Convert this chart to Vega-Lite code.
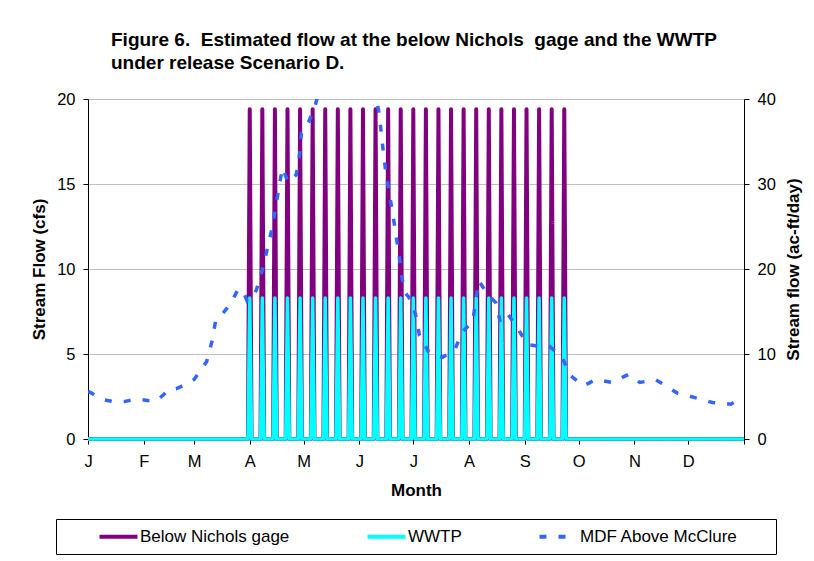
{
  "$schema": "https://vega.github.io/schema/vega-lite/v6.json",
  "width": 656,
  "height": 340,
  "autosize": {"type": "none"},
  "padding": {"left": 88, "top": 99, "right": 70, "bottom": 122},
  "background": "white",
  "title": {
    "text": ["Figure 6.\u00a0 Estimated flow at the below Nichols\u00a0 gage and the WWTP", "under release Scenario D."],
    "anchor": "start",
    "frame": "group",
    "dx": 23,
    "offset": 18,
    "font": "Liberation Sans",
    "fontSize": 19,
    "fontWeight": "bold",
    "lineHeight": 22.6,
    "color": "black"
  },
  "data": {
    "values": [
      {"series": "Below Nichols gage", "day": 0, "flow": 0},
      {"series": "Below Nichols gage", "day": 89, "flow": 0},
      {"series": "Below Nichols gage", "day": 90, "flow": 19.4},
      {"series": "Below Nichols gage", "day": 91, "flow": 0},
      {"series": "Below Nichols gage", "day": 96, "flow": 0},
      {"series": "Below Nichols gage", "day": 97, "flow": 19.4},
      {"series": "Below Nichols gage", "day": 98, "flow": 0},
      {"series": "Below Nichols gage", "day": 103, "flow": 0},
      {"series": "Below Nichols gage", "day": 104, "flow": 19.4},
      {"series": "Below Nichols gage", "day": 105, "flow": 0},
      {"series": "Below Nichols gage", "day": 110, "flow": 0},
      {"series": "Below Nichols gage", "day": 111, "flow": 19.4},
      {"series": "Below Nichols gage", "day": 112, "flow": 0},
      {"series": "Below Nichols gage", "day": 117, "flow": 0},
      {"series": "Below Nichols gage", "day": 118, "flow": 19.4},
      {"series": "Below Nichols gage", "day": 119, "flow": 0},
      {"series": "Below Nichols gage", "day": 124, "flow": 0},
      {"series": "Below Nichols gage", "day": 125, "flow": 19.4},
      {"series": "Below Nichols gage", "day": 126, "flow": 0},
      {"series": "Below Nichols gage", "day": 131, "flow": 0},
      {"series": "Below Nichols gage", "day": 132, "flow": 19.4},
      {"series": "Below Nichols gage", "day": 133, "flow": 0},
      {"series": "Below Nichols gage", "day": 138, "flow": 0},
      {"series": "Below Nichols gage", "day": 139, "flow": 19.4},
      {"series": "Below Nichols gage", "day": 140, "flow": 0},
      {"series": "Below Nichols gage", "day": 145, "flow": 0},
      {"series": "Below Nichols gage", "day": 146, "flow": 19.4},
      {"series": "Below Nichols gage", "day": 147, "flow": 0},
      {"series": "Below Nichols gage", "day": 152, "flow": 0},
      {"series": "Below Nichols gage", "day": 153, "flow": 19.4},
      {"series": "Below Nichols gage", "day": 154, "flow": 0},
      {"series": "Below Nichols gage", "day": 159, "flow": 0},
      {"series": "Below Nichols gage", "day": 160, "flow": 19.4},
      {"series": "Below Nichols gage", "day": 161, "flow": 0},
      {"series": "Below Nichols gage", "day": 166, "flow": 0},
      {"series": "Below Nichols gage", "day": 167, "flow": 19.4},
      {"series": "Below Nichols gage", "day": 168, "flow": 0},
      {"series": "Below Nichols gage", "day": 173, "flow": 0},
      {"series": "Below Nichols gage", "day": 174, "flow": 19.4},
      {"series": "Below Nichols gage", "day": 175, "flow": 0},
      {"series": "Below Nichols gage", "day": 180, "flow": 0},
      {"series": "Below Nichols gage", "day": 181, "flow": 19.4},
      {"series": "Below Nichols gage", "day": 182, "flow": 0},
      {"series": "Below Nichols gage", "day": 187, "flow": 0},
      {"series": "Below Nichols gage", "day": 188, "flow": 19.4},
      {"series": "Below Nichols gage", "day": 189, "flow": 0},
      {"series": "Below Nichols gage", "day": 194, "flow": 0},
      {"series": "Below Nichols gage", "day": 195, "flow": 19.4},
      {"series": "Below Nichols gage", "day": 196, "flow": 0},
      {"series": "Below Nichols gage", "day": 201, "flow": 0},
      {"series": "Below Nichols gage", "day": 202, "flow": 19.4},
      {"series": "Below Nichols gage", "day": 203, "flow": 0},
      {"series": "Below Nichols gage", "day": 208, "flow": 0},
      {"series": "Below Nichols gage", "day": 209, "flow": 19.4},
      {"series": "Below Nichols gage", "day": 210, "flow": 0},
      {"series": "Below Nichols gage", "day": 215, "flow": 0},
      {"series": "Below Nichols gage", "day": 216, "flow": 19.4},
      {"series": "Below Nichols gage", "day": 217, "flow": 0},
      {"series": "Below Nichols gage", "day": 222, "flow": 0},
      {"series": "Below Nichols gage", "day": 223, "flow": 19.4},
      {"series": "Below Nichols gage", "day": 224, "flow": 0},
      {"series": "Below Nichols gage", "day": 229, "flow": 0},
      {"series": "Below Nichols gage", "day": 230, "flow": 19.4},
      {"series": "Below Nichols gage", "day": 231, "flow": 0},
      {"series": "Below Nichols gage", "day": 236, "flow": 0},
      {"series": "Below Nichols gage", "day": 237, "flow": 19.4},
      {"series": "Below Nichols gage", "day": 238, "flow": 0},
      {"series": "Below Nichols gage", "day": 243, "flow": 0},
      {"series": "Below Nichols gage", "day": 244, "flow": 19.4},
      {"series": "Below Nichols gage", "day": 245, "flow": 0},
      {"series": "Below Nichols gage", "day": 250, "flow": 0},
      {"series": "Below Nichols gage", "day": 251, "flow": 19.4},
      {"series": "Below Nichols gage", "day": 252, "flow": 0},
      {"series": "Below Nichols gage", "day": 257, "flow": 0},
      {"series": "Below Nichols gage", "day": 258, "flow": 19.4},
      {"series": "Below Nichols gage", "day": 259, "flow": 0},
      {"series": "Below Nichols gage", "day": 264, "flow": 0},
      {"series": "Below Nichols gage", "day": 265, "flow": 19.4},
      {"series": "Below Nichols gage", "day": 266, "flow": 0},
      {"series": "Below Nichols gage", "day": 365, "flow": 0},

      {"series": "WWTP", "day": 0, "flow": 0},
      {"series": "WWTP", "day": 89, "flow": 0},
      {"series": "WWTP", "day": 90, "flow": 8.3},
      {"series": "WWTP", "day": 91, "flow": 0},
      {"series": "WWTP", "day": 96, "flow": 0},
      {"series": "WWTP", "day": 97, "flow": 8.3},
      {"series": "WWTP", "day": 98, "flow": 0},
      {"series": "WWTP", "day": 103, "flow": 0},
      {"series": "WWTP", "day": 104, "flow": 8.3},
      {"series": "WWTP", "day": 105, "flow": 0},
      {"series": "WWTP", "day": 110, "flow": 0},
      {"series": "WWTP", "day": 111, "flow": 8.3},
      {"series": "WWTP", "day": 112, "flow": 0},
      {"series": "WWTP", "day": 117, "flow": 0},
      {"series": "WWTP", "day": 118, "flow": 8.3},
      {"series": "WWTP", "day": 119, "flow": 0},
      {"series": "WWTP", "day": 124, "flow": 0},
      {"series": "WWTP", "day": 125, "flow": 8.3},
      {"series": "WWTP", "day": 126, "flow": 0},
      {"series": "WWTP", "day": 131, "flow": 0},
      {"series": "WWTP", "day": 132, "flow": 8.3},
      {"series": "WWTP", "day": 133, "flow": 0},
      {"series": "WWTP", "day": 138, "flow": 0},
      {"series": "WWTP", "day": 139, "flow": 8.3},
      {"series": "WWTP", "day": 140, "flow": 0},
      {"series": "WWTP", "day": 145, "flow": 0},
      {"series": "WWTP", "day": 146, "flow": 8.3},
      {"series": "WWTP", "day": 147, "flow": 0},
      {"series": "WWTP", "day": 152, "flow": 0},
      {"series": "WWTP", "day": 153, "flow": 8.3},
      {"series": "WWTP", "day": 154, "flow": 0},
      {"series": "WWTP", "day": 159, "flow": 0},
      {"series": "WWTP", "day": 160, "flow": 8.3},
      {"series": "WWTP", "day": 161, "flow": 0},
      {"series": "WWTP", "day": 166, "flow": 0},
      {"series": "WWTP", "day": 167, "flow": 8.3},
      {"series": "WWTP", "day": 168, "flow": 0},
      {"series": "WWTP", "day": 173, "flow": 0},
      {"series": "WWTP", "day": 174, "flow": 8.3},
      {"series": "WWTP", "day": 175, "flow": 0},
      {"series": "WWTP", "day": 180, "flow": 0},
      {"series": "WWTP", "day": 181, "flow": 8.3},
      {"series": "WWTP", "day": 182, "flow": 0},
      {"series": "WWTP", "day": 187, "flow": 0},
      {"series": "WWTP", "day": 188, "flow": 8.3},
      {"series": "WWTP", "day": 189, "flow": 0},
      {"series": "WWTP", "day": 194, "flow": 0},
      {"series": "WWTP", "day": 195, "flow": 8.3},
      {"series": "WWTP", "day": 196, "flow": 0},
      {"series": "WWTP", "day": 201, "flow": 0},
      {"series": "WWTP", "day": 202, "flow": 8.3},
      {"series": "WWTP", "day": 203, "flow": 0},
      {"series": "WWTP", "day": 208, "flow": 0},
      {"series": "WWTP", "day": 209, "flow": 8.3},
      {"series": "WWTP", "day": 210, "flow": 0},
      {"series": "WWTP", "day": 215, "flow": 0},
      {"series": "WWTP", "day": 216, "flow": 8.3},
      {"series": "WWTP", "day": 217, "flow": 0},
      {"series": "WWTP", "day": 222, "flow": 0},
      {"series": "WWTP", "day": 223, "flow": 8.3},
      {"series": "WWTP", "day": 224, "flow": 0},
      {"series": "WWTP", "day": 229, "flow": 0},
      {"series": "WWTP", "day": 230, "flow": 8.3},
      {"series": "WWTP", "day": 231, "flow": 0},
      {"series": "WWTP", "day": 236, "flow": 0},
      {"series": "WWTP", "day": 237, "flow": 8.3},
      {"series": "WWTP", "day": 238, "flow": 0},
      {"series": "WWTP", "day": 243, "flow": 0},
      {"series": "WWTP", "day": 244, "flow": 8.3},
      {"series": "WWTP", "day": 245, "flow": 0},
      {"series": "WWTP", "day": 250, "flow": 0},
      {"series": "WWTP", "day": 251, "flow": 8.3},
      {"series": "WWTP", "day": 252, "flow": 0},
      {"series": "WWTP", "day": 257, "flow": 0},
      {"series": "WWTP", "day": 258, "flow": 8.3},
      {"series": "WWTP", "day": 259, "flow": 0},
      {"series": "WWTP", "day": 264, "flow": 0},
      {"series": "WWTP", "day": 265, "flow": 8.3},
      {"series": "WWTP", "day": 266, "flow": 0},
      {"series": "WWTP", "day": 365, "flow": 0},

      {"series": "MDF Above McClure", "day": 0, "flow": 5.6},
      {"series": "MDF Above McClure", "day": 2, "flow": 5.4},
      {"series": "MDF Above McClure", "day": 5, "flow": 5.0},
      {"series": "MDF Above McClure", "day": 9, "flow": 4.6},
      {"series": "MDF Above McClure", "day": 14, "flow": 4.4},
      {"series": "MDF Above McClure", "day": 20, "flow": 4.4},
      {"series": "MDF Above McClure", "day": 25, "flow": 4.6},
      {"series": "MDF Above McClure", "day": 29, "flow": 4.65},
      {"series": "MDF Above McClure", "day": 34, "flow": 4.5},
      {"series": "MDF Above McClure", "day": 38, "flow": 4.45},
      {"series": "MDF Above McClure", "day": 42, "flow": 5.2},
      {"series": "MDF Above McClure", "day": 45, "flow": 5.8},
      {"series": "MDF Above McClure", "day": 49, "flow": 5.9},
      {"series": "MDF Above McClure", "day": 52, "flow": 6.2},
      {"series": "MDF Above McClure", "day": 56, "flow": 6.6},
      {"series": "MDF Above McClure", "day": 59, "flow": 7.0},
      {"series": "MDF Above McClure", "day": 63, "flow": 8.2},
      {"series": "MDF Above McClure", "day": 66, "flow": 9.1},
      {"series": "MDF Above McClure", "day": 69, "flow": 11.5},
      {"series": "MDF Above McClure", "day": 71, "flow": 13.9},
      {"series": "MDF Above McClure", "day": 74, "flow": 14.5},
      {"series": "MDF Above McClure", "day": 77, "flow": 15.3},
      {"series": "MDF Above McClure", "day": 80, "flow": 16.2},
      {"series": "MDF Above McClure", "day": 83, "flow": 17.4},
      {"series": "MDF Above McClure", "day": 86, "flow": 17.6},
      {"series": "MDF Above McClure", "day": 88.6, "flow": 16.2},
      {"series": "MDF Above McClure", "day": 91, "flow": 16.5},
      {"series": "MDF Above McClure", "day": 93.6, "flow": 17.5},
      {"series": "MDF Above McClure", "day": 96.7, "flow": 19.7},
      {"series": "MDF Above McClure", "day": 99.6, "flow": 22.2},
      {"series": "MDF Above McClure", "day": 102.2, "flow": 24.6},
      {"series": "MDF Above McClure", "day": 104.3, "flow": 27.1},
      {"series": "MDF Above McClure", "day": 106.1, "flow": 29.4},
      {"series": "MDF Above McClure", "day": 108.2, "flow": 31.9},
      {"series": "MDF Above McClure", "day": 111.3, "flow": 30.2},
      {"series": "MDF Above McClure", "day": 115.9, "flow": 31.1},
      {"series": "MDF Above McClure", "day": 117.8, "flow": 33.6},
      {"series": "MDF Above McClure", "day": 118.7, "flow": 36.0},
      {"series": "MDF Above McClure", "day": 122.4, "flow": 37.1},
      {"series": "MDF Above McClure", "day": 126.1, "flow": 39.0},
      {"series": "MDF Above McClure", "day": 128, "flow": 40.5},
      {"series": "MDF Above McClure", "day": 135, "flow": 42},
      {"series": "MDF Above McClure", "day": 145, "flow": 43},
      {"series": "MDF Above McClure", "day": 155, "flow": 42},
      {"series": "MDF Above McClure", "day": 160, "flow": 40.5},
      {"series": "MDF Above McClure", "day": 161.8, "flow": 38.5},
      {"series": "MDF Above McClure", "day": 163.2, "flow": 36},
      {"series": "MDF Above McClure", "day": 164.4, "flow": 33.6},
      {"series": "MDF Above McClure", "day": 165.9, "flow": 31.1},
      {"series": "MDF Above McClure", "day": 167.9, "flow": 28.6},
      {"series": "MDF Above McClure", "day": 169.8, "flow": 26.2},
      {"series": "MDF Above McClure", "day": 171.5, "flow": 23.8},
      {"series": "MDF Above McClure", "day": 173.3, "flow": 21.3},
      {"series": "MDF Above McClure", "day": 174.8, "flow": 18.85},
      {"series": "MDF Above McClure", "day": 176.5, "flow": 17.2},
      {"series": "MDF Above McClure", "day": 178.5, "flow": 16.7},
      {"series": "MDF Above McClure", "day": 182.2, "flow": 14.7},
      {"series": "MDF Above McClure", "day": 184.4, "flow": 12.2},
      {"series": "MDF Above McClure", "day": 189.4, "flow": 10.3},
      {"series": "MDF Above McClure", "day": 193, "flow": 9.8},
      {"series": "MDF Above McClure", "day": 197.1, "flow": 9.6},
      {"series": "MDF Above McClure", "day": 203.9, "flow": 10.4},
      {"series": "MDF Above McClure", "day": 208.2, "flow": 12.6},
      {"series": "MDF Above McClure", "day": 214.1, "flow": 13.8},
      {"series": "MDF Above McClure", "day": 215.6, "flow": 16.2},
      {"series": "MDF Above McClure", "day": 217.4, "flow": 18.6},
      {"series": "MDF Above McClure", "day": 218.7, "flow": 18.2},
      {"series": "MDF Above McClure", "day": 222.4, "flow": 17.0},
      {"series": "MDF Above McClure", "day": 227.1, "flow": 16.0},
      {"series": "MDF Above McClure", "day": 229.4, "flow": 13.7},
      {"series": "MDF Above McClure", "day": 233.9, "flow": 14.6},
      {"series": "MDF Above McClure", "day": 239.1, "flow": 13.0},
      {"series": "MDF Above McClure", "day": 244.6, "flow": 11.1},
      {"series": "MDF Above McClure", "day": 251.5, "flow": 10.9},
      {"series": "MDF Above McClure", "day": 256.7, "flow": 10.9},
      {"series": "MDF Above McClure", "day": 263.6, "flow": 9.7},
      {"series": "MDF Above McClure", "day": 268.3, "flow": 7.5},
      {"series": "MDF Above McClure", "day": 275.6, "flow": 6.25},
      {"series": "MDF Above McClure", "day": 282.6, "flow": 7.0},
      {"series": "MDF Above McClure", "day": 291.7, "flow": 6.65},
      {"series": "MDF Above McClure", "day": 300.7, "flow": 7.6},
      {"series": "MDF Above McClure", "day": 307.1, "flow": 6.65},
      {"series": "MDF Above McClure", "day": 315.6, "flow": 7.0},
      {"series": "MDF Above McClure", "day": 320, "flow": 6.45},
      {"series": "MDF Above McClure", "day": 327.9, "flow": 5.4},
      {"series": "MDF Above McClure", "day": 337.2, "flow": 4.9},
      {"series": "MDF Above McClure", "day": 347.4, "flow": 4.3},
      {"series": "MDF Above McClure", "day": 357.6, "flow": 4.1},
      {"series": "MDF Above McClure", "day": 364.1, "flow": 4.9}
    ]
  },
  "encoding": {
    "x": {
      "field": "day",
      "type": "quantitative",
      "scale": {"domain": [0, 365], "nice": false, "zero": false},
      "axis": {
        "title": "Month",
        "values": [0, 31, 59, 90, 120, 151, 181, 212, 243, 273, 304, 334, 365],
        "labelExpr": "['J','F','M','A','M','J','J','A','S','O','N','D',''][indexof([0,31,59,90,120,151,181,212,243,273,304,334,365], datum.value)]",
        "grid": false,
        "labelFlush": false,
        "labelOverlap": false,
        "labelPadding": 9,
        "titlePadding": 13
      }
    },
    "color": {
      "field": "series",
      "type": "nominal",
      "scale": {
        "domain": ["Below Nichols gage", "WWTP", "MDF Above McClure"],
        "range": ["#800080", "#00FFFF", "#3366FF"]
      },
      "legend": {
        "orient": "none",
        "legendX": -32,
        "legendY": 420,
        "direction": "horizontal",
        "title": "\u00a0",
        "titleOrient": "left",
        "titleFontSize": 1,
        "titlePadding": 31,
        "strokeColor": "black",
        "fillColor": "white",
        "padding": 9,
        "symbolType": "M-1,0L6.6,0",
        "symbolSize": 100,
        "symbolStrokeWidth": 4,
        "labelFont": "Liberation Sans",
        "labelFontSize": 17,
        "labelColor": "black",
        "labelOffset": 27,
        "columnPadding": 69,
        "labelLimit": 400,
        "labelExpr": "datum.label == 'MDF Above McClure' ? datum.label + '\u00a0\u00a0\u00a0\u00a0\u00a0\u00a0\u200b' : datum.label"
      }
    },
    "strokeDash": {
      "field": "series",
      "type": "nominal",
      "scale": {
        "domain": ["Below Nichols gage", "WWTP", "MDF Above McClure"],
        "range": [[1, 0], [1, 0], [7, 12]]
      },
      "legend": {
        "orient": "none",
        "legendX": -32,
        "legendY": 420,
        "direction": "horizontal",
        "title": "\u00a0",
        "titleOrient": "left",
        "titleFontSize": 1,
        "titlePadding": 31,
        "strokeColor": "black",
        "fillColor": "white",
        "padding": 9,
        "symbolType": "M-1,0L6.6,0",
        "symbolSize": 100,
        "symbolStrokeWidth": 4,
        "labelFont": "Liberation Sans",
        "labelFontSize": 17,
        "labelColor": "black",
        "labelOffset": 27,
        "columnPadding": 69,
        "labelLimit": 400,
        "labelExpr": "datum.label == 'MDF Above McClure' ? datum.label + '\u00a0\u00a0\u00a0\u00a0\u00a0\u00a0\u200b' : datum.label"
      }
    }
  },
  "layer": [
    {
      "layer": [
        {
          "transform": [{"filter": "datum.series === 'Below Nichols gage'"}],
          "mark": {"type": "line", "strokeWidth": 4, "strokeJoin": "round"},
          "encoding": {
            "y": {
              "field": "flow",
              "type": "quantitative",
              "scale": {"domain": [0, 20], "nice": false},
              "axis": {"title": "Stream Flow (cfs)", "orient": "left", "values": [0, 5, 10, 15, 20], "grid": true}
            }
          }
        },
        {
          "transform": [{"filter": "datum.series === 'WWTP'"}],
          "mark": {"type": "line", "strokeWidth": 3.5, "strokeJoin": "round"},
          "encoding": {
            "y": {
              "field": "flow",
              "type": "quantitative",
              "scale": {"domain": [0, 20], "nice": false},
              "axis": {"title": "Stream Flow (cfs)", "orient": "left", "values": [0, 5, 10, 15, 20], "grid": true}
            }
          }
        }
      ]
    },
    {
      "transform": [{"filter": "datum.series === 'MDF Above McClure'"}],
      "mark": {"type": "line", "strokeWidth": 3.5, "strokeCap": "butt", "clip": true},
      "encoding": {
        "y": {
          "field": "flow",
          "type": "quantitative",
          "scale": {"domain": [0, 40], "nice": false},
          "axis": {"title": "Stream flow (ac-ft/day)", "orient": "right", "values": [0, 10, 20, 30, 40], "grid": false, "titleAngle": 270, "titleBaseline": "top", "titlePadding": 10}
        }
      }
    }
  ],
  "resolve": {"scale": {"y": "independent"}},
  "config": {
    "view": {"stroke": null},
    "axis": {
      "labelFont": "Liberation Sans",
      "labelFontSize": 16.5,
      "labelColor": "black",
      "titleFont": "Liberation Sans",
      "titleFontSize": 17,
      "titleFontWeight": "bold",
      "titleColor": "black",
      "domainColor": "black",
      "tickColor": "black",
      "tickSize": 5,
      "gridColor": "#c0c0c0",
      "labelPadding": 8,
      "titlePadding": 8
    }
  }
}
